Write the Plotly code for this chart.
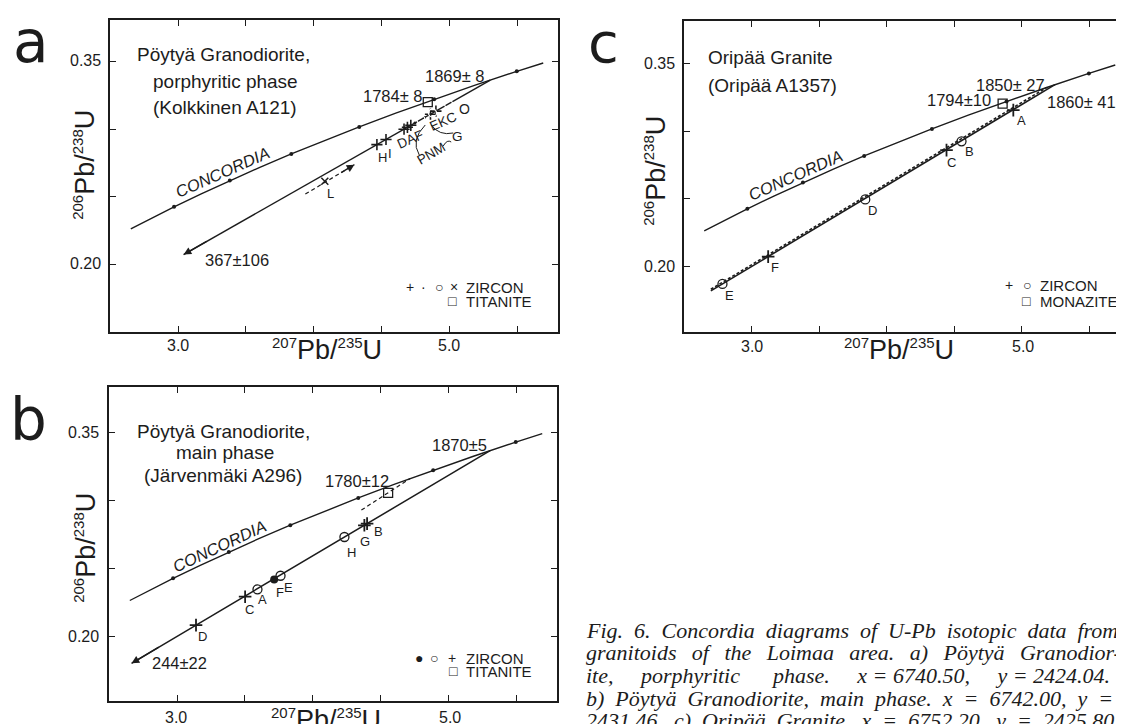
import plotly.graph_objects as go

W, H = 1124, 724
INK = "#1c1c1c"
SANS = "Liberation Sans, Arial, sans-serif"
SERIF = "Liberation Serif, Times New Roman, serif"

# ---------------- data ----------------
# Concordia curve (207Pb/235U vs 206Pb/238U) as drawn in every panel
CONC_X = [2.651, 2.779, 2.970, 3.170, 3.381, 3.602, 3.834, 4.078, 4.335, 4.604, 4.887, 5.184, 5.496, 5.691]
CONC_Y = [0.2263, 0.2330, 0.2426, 0.2522, 0.2620, 0.2718, 0.2817, 0.2917, 0.3017, 0.3119, 0.3221, 0.3324, 0.3428, 0.3490]
# age dots on the concordia (1400 ... 1900 Ma)
CONC_DOT_X = [2.970, 3.381, 3.834, 4.335, 4.887, 5.496]
CONC_DOT_Y = [0.2426, 0.2620, 0.2817, 0.3017, 0.3221, 0.3428]

# panel a - Pöytyä granodiorite, porphyritic phase
A_DISC_X = [5.301, 3.040]          # upper intercept 1869 Ma -> towards 367 Ma
A_DISC_Y = [0.3363, 0.2073]
A_PLUS_X = [4.465, 4.532, 4.665, 4.690, 4.715, 4.860, 4.900]
A_PLUS_Y = [0.2886, 0.2924, 0.3000, 0.3014, 0.3029, 0.3111, 0.3134]
A_CIRC_X = [4.789, 4.875, 4.993]
A_CIRC_Y = [0.3071, 0.3120, 0.3187]
A_DOT_X = [4.745, 4.815]
A_DOT_Y = [0.3046, 0.3086]
A_XMARK_X = [4.081]                # L
A_XMARK_Y = [0.2615]
A_TIT_X = [4.840]
A_TIT_Y = [0.3200]
A_LDASH_X = [3.9375, 4.299]
A_LDASH_Y = [0.2520, 0.2738]

# panel b - Pöytyä granodiorite, main phase
B_DISC_X = [5.307, 2.664]          # 1870 Ma -> towards 244 Ma
B_DISC_Y = [0.3365, 0.1801]
B_PLUS_X = [3.139, 3.501, 4.380, 4.400]     # D, C, G, B
B_PLUS_Y = [0.2082, 0.2291, 0.2816, 0.2828]
B_CIRC_X = [3.592, 3.762, 4.233]            # A, E, H
B_CIRC_Y = [0.2345, 0.2445, 0.2730]
B_FILL_X = [3.715]                          # F
B_FILL_Y = [0.2418]
B_TIT_X = [4.555]
B_TIT_Y = [0.3055]
B_TDASH_X = [4.358, 4.717]
B_TDASH_Y = [0.2928, 0.3160]

# panel c - Oripää granite
C_DISC_X = [2.700, 5.245]          # 1860 Ma line (solid)
C_DISC_Y = [0.1818, 0.3345]
C_DISC2_X = [2.700, 5.184]         # 1850 Ma line (dashed)
C_DISC2_Y = [0.1830, 0.3324]
C_PLUS_X = [3.124, 4.443, 4.937]            # F, C, A
C_PLUS_Y = [0.2072, 0.2860, 0.3156]
C_CIRC_X = [2.786, 3.842, 4.554]            # E, D, B
C_CIRC_Y = [0.1870, 0.2495, 0.2925]
C_MON_X = [4.858]
C_MON_Y = [0.3205]

X_TICKS = [3.0, 3.5, 4.0, 4.5, 5.0, 5.5]
Y_TICKS = [0.20, 0.25, 0.30, 0.35]
X_LABELS = ["3.0", "5.0"]
Y_LABELS = ["0.35", "0.20"]

# ---------------- figure ----------------
fig = go.Figure()


def line(xs, ys, ax, dash="solid", width=1.5):
    fig.add_trace(go.Scatter(x=xs, y=ys, mode="lines", xaxis=ax[0], yaxis=ax[1],
                             line=dict(color=INK, width=width, dash=dash),
                             hoverinfo="skip", showlegend=False))


def marks(xs, ys, ax, symbol, size, lw=1.3, fill=None):
    fig.add_trace(go.Scatter(x=xs, y=ys, mode="markers", xaxis=ax[0], yaxis=ax[1],
                             marker=dict(symbol=symbol, size=size,
                                         color=fill if fill else INK,
                                         line=dict(color=INK, width=lw)),
                             hoverinfo="skip", showlegend=False))


AX = {"a": ("x", "y"), "b": ("x2", "y2"), "c": ("x3", "y3")}

for k in "abc":
    line(CONC_X, CONC_Y, AX[k], width=1.4)
    marks(CONC_DOT_X, CONC_DOT_Y, AX[k], "circle", 4, lw=0)

# panel a
line(A_DISC_X, A_DISC_Y, AX["a"])
line(A_LDASH_X, A_LDASH_Y, AX["a"], dash="4px,3px", width=1.2)
marks(A_PLUS_X, A_PLUS_Y, AX["a"], "cross-thin", 8, lw=1.6)
marks(A_XMARK_X, A_XMARK_Y, AX["a"], "x-thin", 7, lw=1.5)
marks(A_DOT_X, A_DOT_Y, AX["a"], "circle", 3, lw=0)
marks(A_CIRC_X, A_CIRC_Y, AX["a"], "circle-open", 8, lw=1.3, fill="white")
marks(A_TIT_X, A_TIT_Y, AX["a"], "square-open", 9, lw=1.3)

# panel b
line(B_DISC_X, B_DISC_Y, AX["b"])
line(B_TDASH_X, B_TDASH_Y, AX["b"], dash="4px,3px", width=1.2)
marks(B_PLUS_X, B_PLUS_Y, AX["b"], "cross-thin", 9, lw=1.8)
marks(B_CIRC_X, B_CIRC_Y, AX["b"], "circle-open", 9, lw=1.3)
marks(B_FILL_X, B_FILL_Y, AX["b"], "circle", 8, lw=0)
marks(B_TIT_X, B_TIT_Y, AX["b"], "square-open", 9, lw=1.3)

# panel c
line(C_DISC_X, C_DISC_Y, AX["c"], width=1.6)
line(C_DISC2_X, C_DISC2_Y, AX["c"], dash="3px,2px", width=1.6)
marks(C_PLUS_X, C_PLUS_Y, AX["c"], "cross-thin", 9, lw=1.8)
marks(C_CIRC_X, C_CIRC_Y, AX["c"], "circle-open", 9, lw=1.3)
marks(C_MON_X, C_MON_Y, AX["c"], "square-open", 9, lw=1.3)

# ---------------- axes ----------------
def xax(dom, anchor):
    return dict(domain=dom, anchor=anchor, range=[2.5, 5.8], showgrid=False, zeroline=False,
                showline=True, linecolor=INK, linewidth=1.6, mirror="ticks",
                ticks="inside", ticklen=6, tickwidth=1.4, tickcolor=INK,
                tickvals=X_TICKS, showticklabels=False)


def yax(dom, anchor, rng):
    return dict(domain=dom, anchor=anchor, range=rng, showgrid=False, zeroline=False,
                showline=True, linecolor=INK, linewidth=1.6, mirror="ticks",
                ticks="inside", ticklen=6, tickwidth=1.4, tickcolor=INK,
                tickvals=Y_TICKS, showticklabels=False)


def px_x(a, b):
    return [a / W, min(b / W, 1.0)]


def px_y(top, bot):
    return [1 - bot / H, 1 - top / H]


fig.update_layout(
    width=W, height=H, margin=dict(l=0, r=0, t=0, b=0),
    paper_bgcolor="white", plot_bgcolor="white", showlegend=False,
    xaxis=xax(px_x(102.5, 551), "y"),
    yaxis=yax(px_y(11.7, 324), "x", [0.150, 0.381]),
    xaxis2=xax(px_x(101.5, 550), "y2"),
    yaxis2=yax(px_y(379, 693), "x2", [0.1524, 0.3833]),
    xaxis3=xax(px_x(677, 1124), "y3"),
    yaxis3=yax(px_y(13, 324), "x3", [0.1514, 0.3816]),
)

# ---------------- text ----------------
ANN = []


def txt(px, py, text, size=16, anchor="center", angle=0, italic=False, family=SANS, yanchor="middle"):
    ANN.append(dict(x=px / W, y=1 - py / H, xref="paper", yref="paper", text=text,
                    showarrow=False, xanchor=anchor, yanchor=yanchor, textangle=angle,
                    font=dict(family=family, size=size, color=INK,
                              style="italic" if italic else "normal")))


def arrow_end(xs, ys, ax, frac=0.12):
    # arrowhead at the far end of a drawn line
    x0, x1 = xs[0], xs[-1]
    y0, y1 = ys[0], ys[-1]
    ANN.append(dict(x=x1, y=y1, ax=x1 + (x0 - x1) * frac, ay=y1 + (y0 - y1) * frac,
                    xref=ax[0], yref=ax[1], axref=ax[0], ayref=ax[1], text="",
                    showarrow=True, arrowhead=2, arrowsize=1.1, arrowwidth=1.4,
                    arrowcolor=INK, standoff=0))


arrow_end(A_DISC_X, A_DISC_Y, AX["a"], 0.08)
arrow_end(A_LDASH_X, A_LDASH_Y, AX["a"], 0.3)
arrow_end(B_DISC_X, B_DISC_Y, AX["b"], 0.08)

# tick labels (only 3.0 / 5.0 and 0.35 / 0.20 are labelled)
for (x3, x5, xl_y, yl_x, y35, y20) in [(170, 442, 337, 95, 52.5, 255.7),
                                       (168, 443, 709, 93, 424.3, 628.3),
                                       (745, 1016.5, 338, 670, 55.7, 258.3)]:
    txt(x3, xl_y, X_LABELS[0], 16)
    txt(x5, xl_y, X_LABELS[1], 16)
    txt(yl_x, y35, Y_LABELS[0], 16, anchor="right")
    txt(yl_x, y20, Y_LABELS[1], 16, anchor="right")

AXT_X = "<sup><span style='font-size:15px'>207</span></sup>Pb/<sup><span style='font-size:15px'>235</span></sup>U"
AXT_Y = "<sup><span style='font-size:15px'>206</span></sup>Pb/<sup><span style='font-size:15px'>238</span></sup>U"

# panel letters
txt(23, 34, "a", 58, family="DejaVu Sans")
txt(21, 412, "b", 58, family="DejaVu Sans")
txt(597, 34, "c", 56, family="DejaVu Sans")

# axis titles
for (xx, xy, yx, yy) in [(320, 342, 77, 157), (319, 711, 77, 540), (893, 342, 648, 163)]:
    txt(xx, xy, AXT_X, 27)
    txt(yx, yy, AXT_Y, 27, angle=-90)

# panel a texts
txt(216, 47, "Pöytyä Granodiorite,", 19)
txt(218, 73, "porphyritic phase", 19)
txt(217, 99, "(Kolkkinen A121)", 19)
txt(215, 164, "CONCORDIA", 16.5, angle=-24, italic=True)
txt(448, 68, "1869± 8", 16.5)
txt(386, 88, "1784± 8", 16.5)
txt(229, 252, "367±106", 16.5)
txt(323, 186, "L", 13)
txt(375, 150, "H", 13)
txt(383, 145, "I", 13)
txt(403, 132, "DAF", 13.5, angle=-24)
txt(436, 113, "EKC", 13.5, angle=-24)
txt(457, 101, "O", 14)
txt(424, 145, "PNM", 13.5, angle=-30)
txt(450, 128, "G", 13.5)
for (sx, st) in [(403, "+"), (416.7, "·"), (431.7, "○"), (446.7, "×")]:
    txt(sx, 279, st, 14)
txt(457, 279, "ZIRCON", 15, anchor="left")
txt(445.7, 293, "□", 14)
txt(457, 293, "TITANITE", 15, anchor="left")

# panel b texts
txt(216, 423, "Pöytyä Granodiorite,", 19)
txt(217, 445, "main phase", 19)
txt(215, 467, "(Järvenmäki A296)", 19)
txt(212, 538, "CONCORDIA", 16.5, angle=-25, italic=True)
txt(452, 437, "1870±5", 16.5)
txt(350, 473, "1780±12", 16.5)
txt(172, 655, "244±22", 16.5)
for (lx, ly, lt) in [(195, 628, "D"), (242, 601, "C"), (255, 591, "A"), (272, 584, "F"),
                     (281, 579, "E"), (344, 544, "H"), (358, 533, "G"), (371, 523, "B")]:
    txt(lx, ly, lt, 13)
for (sx, st) in [(412, "●"), (427, "○"), (444.4, "+")]:
    txt(sx, 650, st, 14)
txt(457, 650, "ZIRCON", 15, anchor="left")
txt(446, 663, "□", 14)
txt(457, 663, "TITANITE", 15, anchor="left")

# panel c texts
txt(699, 50, "Oripää Granite", 19, anchor="left")
txt(699, 77, "(Oripää A1357)", 19, anchor="left")
txt(789, 167, "CONCORDIA", 16.5, angle=-24, italic=True)
txt(1004, 77, "1850± 27", 16.5)
txt(953, 92, "1794±10", 16.5)
txt(1075, 94, "1860± 41", 16.5)
for (lx, ly, lt) in [(1015, 112, "A"), (963, 144, "B"), (945, 154, "C"), (866, 203, "D"),
                     (768, 259, "F"), (723, 287, "E")]:
    txt(lx, ly, lt, 13)
for (sx, st) in [(1002.7, "+"), (1020.7, "○")]:
    txt(sx, 277, st, 14)
txt(1031.7, 277, "ZIRCON", 15, anchor="left")
txt(1020.7, 293, "□", 14)
txt(1031.7, 293, "MONAZITE", 15, anchor="left")

# caption (justified in print: widened spaces)
S = " \u00a0"
WIDE = "\u00a0" * 4 + " "
CAPTION = [
    S.join("Fig. 6. Concordia diagrams of U-Pb isotopic data from".split(" ")),
    (S + "\u2009").join("granitoids of the Loimaa area. a) Pöytyä Granodior-".split(" ")),
    "ite," + WIDE + "porphyritic" + WIDE + "\u00a0phase." + WIDE + "x = 6740.50," + WIDE + "y = 2424.04.",
    S.join("b) Pöytyä Granodiorite, main phase. x = 6742.00, y =".split(" ")),
    S.join("2431.46. c) Oripää Granite. x = 6752.20, y = 2425.80.".split(" ")),
]
for i, line_text in enumerate(CAPTION):
    txt(577, 622 + i * 22.7, line_text, 22, anchor="left", italic=True, family=SERIF)

# leader lines near the clustered analyses in panel a
def pp(x, y):
    return f"{x / W:.5f},{1 - y / H:.5f}"

SHAPES = [
    dict(type="path", xref="paper", yref="paper", line=dict(color=INK, width=1),
         path=f"M{pp(418, 117)} Q{pp(403, 132)} {pp(412, 147)}"),
    dict(type="path", xref="paper", yref="paper", line=dict(color=INK, width=1),
         path=f"M{pp(424, 117)} Q{pp(432, 128)} {pp(446, 125)}"),
    dict(type="path", xref="paper", yref="paper", line=dict(color=INK, width=1),
         path=f"M{pp(436, 138)} Q{pp(440, 131)} {pp(444, 134)}"),
]

fig.update_layout(annotations=ANN, shapes=SHAPES)
fig.write_html("out.html")
